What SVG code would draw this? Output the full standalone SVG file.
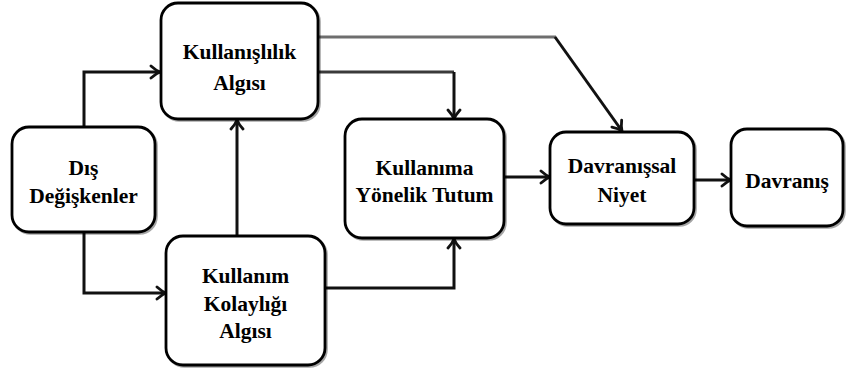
<svg xmlns="http://www.w3.org/2000/svg" width="846" height="374" viewBox="0 0 846 374">
  <defs>
    <style>
      .box { fill: #ffffff; stroke: #000000; stroke-width: 2.8; }
      .shadow { fill: none; stroke: #000000; stroke-width: 2.6; opacity: 0.35; }
      .label { font-family: "Liberation Serif", "Times New Roman", serif; font-weight: bold; font-size: 21.5px; fill: #000000; text-anchor: middle; }
      .wire { fill: none; stroke: #111111; stroke-width: 3; }
      .wire-gray { fill: none; stroke: #6e6e6e; stroke-width: 3; }
      .wire-mid { fill: none; stroke: #3a3a3a; stroke-width: 3; }
    </style>
    <marker id="head" viewBox="-12 -8 14 16" refX="0" refY="0" markerWidth="14" markerHeight="16" markerUnits="userSpaceOnUse" orient="auto">
      <path d="M-9,-6 Q-4,-1.5 0,0 Q-4,1.5 -9,6" fill="none" stroke="#111111" stroke-width="2.8" stroke-linecap="round"/>
    </marker>
  </defs>

  <rect width="846" height="374" fill="#ffffff"/>

  <!-- connectors -->
  <g id="connectors">
    <path class="wire" d="M84,127 V72 H160" marker-end="url(#head)"/>
    <path class="wire" d="M84,232 V293 H166" marker-end="url(#head)"/>
    <path class="wire" d="M237,236 V120" marker-end="url(#head)"/>
    <path class="wire-mid" d="M318,72 H454"/>
    <path class="wire" d="M454,72 V119" marker-end="url(#head)"/>
    <path class="wire" d="M325,288 H454 V239" marker-end="url(#head)"/>
    <path class="wire-gray" d="M318,37 H556"/>
    <path class="wire" stroke-width="2.6" d="M555,37 L622,131" marker-end="url(#head)"/>
    <path class="wire" d="M504,177 H550" marker-end="url(#head)"/>
    <path class="wire" stroke-width="4" d="M694,180 H731" marker-end="url(#head)"/>
  </g>

  <!-- Kullanışlılık Algısı -->
  <g id="usefulness">
    <rect class="shadow" x="162.5" y="4.5" width="157" height="116" rx="17"/>
    <rect class="box" x="161" y="3" width="157" height="116" rx="17"/>
    <text class="label" x="239.5" y="59">Kullanışlılık</text>
    <text class="label" x="239.5" y="90">Algısı</text>
  </g>

  <!-- Dış Değişkenler -->
  <g id="external">
    <rect class="shadow" x="13.5" y="128.5" width="143" height="105" rx="17"/>
    <rect class="box" x="12" y="127" width="143" height="105" rx="17"/>
    <text class="label" x="83.5" y="175">Dış</text>
    <text class="label" x="83.5" y="203">Değişkenler</text>
  </g>

  <!-- Kullanım Kolaylığı Algısı -->
  <g id="ease">
    <rect class="shadow" x="167.5" y="237.5" width="159" height="129" rx="17"/>
    <rect class="box" x="166" y="236" width="159" height="129" rx="17"/>
    <text class="label" x="245.5" y="283">Kullanım</text>
    <text class="label" x="245.5" y="311">Kolaylığı</text>
    <text class="label" x="245.5" y="338">Algısı</text>
  </g>

  <!-- Kullanıma Yönelik Tutum -->
  <g id="attitude">
    <rect class="shadow" x="346.5" y="120.5" width="159" height="119" rx="17"/>
    <rect class="box" x="345" y="119" width="159" height="119" rx="17"/>
    <text class="label" x="424.5" y="175">Kullanıma</text>
    <text class="label" x="424.5" y="202">Yönelik Tutum</text>
  </g>

  <!-- Davranışsal Niyet -->
  <g id="intention">
    <rect class="shadow" x="551.5" y="133.5" width="144" height="92" rx="16"/>
    <rect class="box" x="550" y="132" width="144" height="92" rx="16"/>
    <text class="label" x="622" y="173">Davranışsal</text>
    <text class="label" x="622" y="202">Niyet</text>
  </g>

  <!-- Davranış -->
  <g id="behaviour">
    <rect class="shadow" x="732.5" y="130.5" width="112" height="97" rx="16"/>
    <rect class="box" x="731" y="129" width="112" height="97" rx="16"/>
    <text class="label" x="787" y="188">Davranış</text>
  </g>
</svg>
